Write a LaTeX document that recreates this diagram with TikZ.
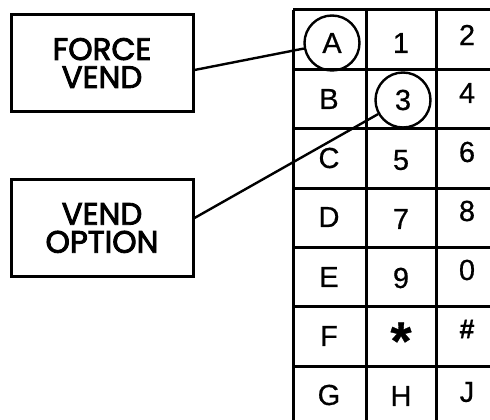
\documentclass[tikz,border=0pt]{standalone}
\usepackage{fontspec}
\setmainfont[FakeBold=0.6]{Liberation Sans}
\newfontfamily\calloutfont[FakeBold=2.8]{Poppins}
\begin{document}
\begin{tikzpicture}[x=1pt,y=-1pt,line width=3pt,
  callout/.style={draw,line width=3pt,minimum width=182pt,minimum height=97pt,align=center,
    font=\calloutfont\fontsize{31}{28}\selectfont},
  keycap/.style={font=\fontsize{29}{29}\selectfont},
  ring/.style={draw,circle,minimum size=55pt,inner sep=0pt,line width=2.4pt}]
\useasboundingbox (0,0) rectangle (490,420);
% keypad grid
\draw (293,10) -- (496,10);
\draw (293,70) -- (496,70);
\draw (293,128) -- (496,128);
\draw (293,188) -- (496,188);
\draw (293,247) -- (496,247);
\draw (293,306) -- (496,306);
\draw (293,366) -- (496,366);
\draw (293,10) -- (293,426);
\draw (366,10) -- (366,426);
\draw (436,10) -- (436,426);
% keys
\node[keycap,ring] (a) at (332,43) {A};
\node[keycap] (k1) at (401,43) {1};
\node[keycap] (k2) at (467,35) {2};
\node[keycap] (b) at (329,99) {B};
\node[keycap,ring] (k3) at (403,100) {3};
\node[keycap] (k4) at (467,93) {4};
\node[keycap] (c) at (329,158) {C};
\node[keycap] (k5) at (401,160) {5};
\node[keycap] (k6) at (467,152) {6};
\node[keycap] (d) at (329,217) {D};
\node[keycap] (k7) at (401,219) {7};
\node[keycap] (k8) at (467,211) {8};
\node[keycap] (e) at (329,277) {E};
\node[keycap] (k9) at (401,278) {9};
\node[keycap] (k0) at (467,270) {0};
\node[keycap] (f) at (329,336) {F};
\node[keycap,font=\bfseries\fontsize{54}{54}\selectfont] (star) at (401,341) {*};
\node[keycap,font=\bfseries\fontsize{27}{27}\selectfont] (hash) at (467,329) {\#};
\node[keycap] (g) at (329,395) {G};
\node[keycap] (h) at (401,396) {H};
\node[keycap] (j) at (467,392) {J};
% callouts
\node[callout] (fv) at (102,63) {FORCE\\VEND};
\node[callout] (vo) at (102,228) {VEND\\OPTION};
\draw[line width=2.4pt] ([yshift=-7pt]fv.east) -- (a);
\draw[line width=2.4pt] ([yshift=10pt]vo.east) -- (k3);
\end{tikzpicture}
\end{document}
